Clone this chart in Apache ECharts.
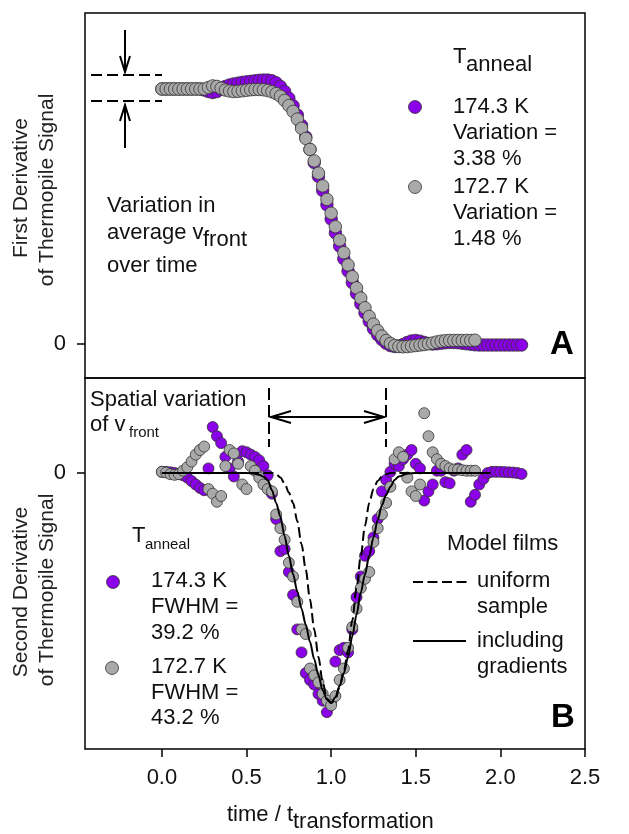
<!DOCTYPE html>
<html><head><meta charset="utf-8">
<script src="https://cdn.jsdelivr.net/npm/echarts@6/dist/echarts.min.js"></script>
<style>html,body{margin:0;padding:0;background:#fff}#c{width:629px;height:834px}</style>
</head><body><div id="c"></div>
<script>
// ---------------- DATA ----------------
const time = [0,0.025,0.05,0.075,0.1,0.125,0.15,0.175,0.2,0.225,0.25,0.275,0.3,0.325,0.35,0.375,0.4,0.425,0.45,0.475,0.5,0.525,0.55,0.575,0.6,0.625,0.65,0.675,0.7,0.725,0.75,0.775,0.8,0.825,0.85,0.875,0.9,0.925,0.95,0.975,1,1.025,1.05,1.075,1.1,1.125,1.15,1.175,1.2,1.225,1.25,1.275,1.3,1.325,1.35,1.375,1.4,1.425,1.45,1.475,1.5,1.525,1.55,1.575,1.6,1.625,1.65,1.675,1.7,1.725,1.75,1.775,1.8,1.825,1.85,1.875,1.9,1.925,1.95,1.975,2,2.025,2.05,2.075,2.1,2.125];

// First derivative, T_anneal = 174.3 K
const purpleA = [1,1,1,1,1,1,1,1,1,1,
  0.996,0.990,0.986,0.990,1.000,1.010,1.016,1.020,1.023,1.026,
  1.028,1.030,1.032,1.034,1.035,1.035,1.032,1.024,1.010,0.990,
  0.964,0.934,0.898,0.857,0.812,0.763,0.711,0.657,0.602,0.546,
  0.490,0.436,0.384,0.334,0.286,0.241,0.198,0.158,0.122,0.089,
  0.060,0.036,0.017,0.003,-0.006,-0.010,-0.008,-0.002,0.006,0.012,
  0.014,0.011,0.006,0.002,0.000,0.001,0.003,0.005,0.006,0.006,
  0.005,0.003,0.001,-0.001,-0.003,
  -0.004,-0.004,-0.004,-0.004,-0.004,-0.004,-0.004,-0.004,-0.004,-0.004,-0.004];
// First derivative, T_anneal = 172.7 K
const grayA = [1,1,1,1,1,1,1,1,1,1,1,
  1.006,1.012,1.010,1.003,0.996,0.992,0.990,0.991,0.993,
  0.995,0.997,0.998,0.998,0.997,0.994,0.989,0.982,0.972,0.955,
  0.935,0.912,0.882,0.846,0.806,0.763,0.718,0.670,0.620,0.567,
  0.513,0.460,0.408,0.358,0.310,0.264,0.220,0.180,0.142,0.108,
  0.078,0.052,0.031,0.014,0.002,-0.006,-0.010,-0.011,-0.010,-0.008,
  -0.006,-0.004,-0.002,0.001,0.004,0.008,0.011,0.013,0.014,0.014,
  0.014,0.014,0.014,0.014,0.015];
// Second derivative, 174.3 K
const purpleB = [0.005,0.005,0.003,0.000,-0.005,-0.010,-0.020,-0.035,-0.050,-0.065,
  -0.075,0.020,0.200,0.160,0.130,0.070,0.020,-0.015,0.050,0.095,
  0.090,0.080,0.070,0.055,0.030,-0.010,-0.090,-0.200,-0.340,-0.330,
  -0.430,-0.530,-0.680,-0.780,-0.870,-0.900,-0.920,-0.960,-0.990,-1.040,
  -1.000,-0.820,-0.770,-0.760,-0.780,-0.680,-0.540,-0.450,-0.360,-0.340,
  -0.280,-0.200,-0.080,-0.030,0.005,0.040,0.030,0.060,0.080,0.100,
  0.040,0.020,-0.120,-0.080,-0.050,0.010,0.010,-0.040,-0.045,0.010,
  0.020,0.080,0.100,-0.125,-0.095,-0.050,-0.025,0.000,
  0.005,0.005,0.005,0.004,0.003,0.002,0.000,-0.004];
// Second derivative, 172.7 K
const grayB = [0.005,0.002,-0.005,-0.008,-0.005,0.010,0.025,0.050,0.080,0.100,
  0.115,-0.070,-0.090,-0.125,-0.100,0.030,0.100,0.085,0.040,-0.050,
  -0.070,0.030,0.010,-0.020,-0.050,-0.070,-0.080,-0.180,-0.240,-0.290,
  -0.390,-0.450,-0.560,-0.680,-0.700,-0.850,-0.880,-0.910,-0.960,-0.990,
  -1.010,-0.970,-0.900,-0.850,-0.760,-0.670,-0.590,-0.500,-0.460,-0.430,
  -0.300,-0.240,-0.180,-0.130,-0.060,0.060,0.090,0.070,-0.020,-0.080,
  -0.100,-0.050,0.260,0.160,0.090,0.060,0.040,0.030,0.020,0.015,
  0.015,0.012,0.010,0.010,0.010];
// Model films
const modelTime = [0,0.5,0.55,0.575,0.6,0.625,0.65,0.675,0.7,0.725,0.75,0.775,0.8,0.825,0.85,0.875,0.9,0.925,0.95,0.975,1,1.025,1.05,1.075,1.1,1.125,1.15,1.175,1.2,1.225,1.25,1.275,1.3,1.325,1.35,1.375,1.4,1.45,1.5,1.94];
const modelUniform = [0,0,0,0,0,0,0,-0.005,-0.02,-0.045,-0.085,-0.13,-0.21,-0.31,-0.42,-0.55,-0.68,-0.8,-0.91,-0.98,-1.0,-0.985,-0.93,-0.86,-0.77,-0.64,-0.5,-0.36,-0.23,-0.13,-0.07,-0.035,-0.015,-0.005,0,0,0,0,0,0];
const modelGradient = [0,0,-0.003,-0.008,-0.016,-0.03,-0.075,-0.13,-0.19,-0.275,-0.36,-0.44,-0.515,-0.59,-0.66,-0.735,-0.81,-0.88,-0.945,-0.985,-1.0,-0.975,-0.925,-0.87,-0.8,-0.71,-0.615,-0.52,-0.44,-0.36,-0.28,-0.205,-0.14,-0.095,-0.06,-0.03,-0.015,-0.003,0,0];
const xTicks = [0,0.5,1,1.5,2,2.5];
const xTickLabels = ['0.0','0.5','1.0','1.5','2.0','2.5'];
const yTicks = [0];
const yTickLabels = ['0'];

// ---------------- CHART ----------------
const F = '"Liberation Sans", Arial, sans-serif';
const PURPLE = '#8A00E8', GRAY = '#A9A9A9';
const FS = 22;
const chart = echarts.init(document.getElementById('c'));
const pair = (xs, ys) => ys.map((v, i) => [xs[i], v]);
const lab = (arr, labels) => v => { let k = 0; arr.forEach((a, i) => { if (Math.abs(a - v) < Math.abs(arr[k] - v)) k = i; }); return labels[k]; };
const tickStyle = {color: '#000', width: 1.5};

const xBase = {type: 'value', min: -0.4545, max: 2.5, axisLine: {show: false, onZero: false}, splitLine: {show: false}};
const T = (x, y, text, o = {}) => ({type: 'text', x, y, z: 100, style: Object.assign({text, fontSize: FS, fontFamily: F, fill: '#111', align: 'left', verticalAlign: 'middle'}, o)});
const L = (x1, y1, x2, y2, dash) => ({type: 'line', z: 100, shape: {x1, y1, x2, y2}, style: {stroke: '#000', lineWidth: 2, lineDash: dash || null}});
const P = (pts) => ({type: 'polyline', z: 100, shape: {points: pts}, style: {stroke: '#000', lineWidth: 2, fill: null}});
const C = (cx, cy, fill) => ({type: 'circle', z: 100, shape: {cx, cy, r: 6.5}, style: {fill, stroke: '#333', lineWidth: 0.8}});

const graphic = [
  // y titles
  T(21, 188, 'First Derivative', {align: 'center', fill: '#222', fontSize: 21}),
  T(47, 190, 'of Thermopile Signal', {align: 'center', fill: '#222', fontSize: 21}),
  T(21, 592, 'Second Derivative', {align: 'center', fill: '#222', fontSize: 21}),
  T(47, 590, 'of Thermopile Signal', {align: 'center', fill: '#222', fontSize: 21}),
  // x title
  T(293, 815, 'time / t', {align: 'right'}),
  T(293, 822, 'transformation', {align: 'left'}),
  // Panel A annotations
  L(91, 75, 162, 75, [11, 5]), L(91, 101, 162, 101, [11, 5]),
  L(125, 30, 125, 72), P([[120, 56], [125, 72], [130, 56]]),
  L(125, 148, 125, 105), P([[120, 121], [125, 105], [130, 121]]),
  T(107, 206, 'Variation in'), T(107, 233, 'average v'), T(203, 240, 'front'), T(107, 266, 'over time'),
  T(453, 57, 'T'), T(466, 65, 'anneal'),
  C(415, 107, PURPLE), T(453, 107, '174.3 K'), T(453, 133, 'Variation ='), T(453, 159, '3.38 %'),
  C(415, 187, GRAY), T(453, 187, '172.7 K'), T(453, 213, 'Variation ='), T(453, 239, '1.48 %'),
  T(562, 345, 'A', {align: 'center', fontSize: 33, fontWeight: 'bold', fill: '#000'}),
  // Panel B annotations
  T(90, 400, 'Spatial variation'), T(90, 425, 'of v'), T(129, 433, 'front', {fontSize: 15}),
  L(269, 388, 269, 447, [12, 5]), L(386, 388, 386, 447, [12, 5]),
  L(271, 417, 384, 417), P([[291, 411], [271, 417], [291, 423]]), P([[364, 411], [384, 417], [364, 423]]),
  T(132, 536, 'T'), T(145, 545, 'anneal', {fontSize: 15}),
  C(113, 582, PURPLE), T(151, 581, '174.3 K'), T(151, 607, 'FWHM ='), T(151, 633, '39.2 %'),
  C(112, 668, GRAY), T(151, 667, '172.7 K'), T(151, 693, 'FWHM ='), T(151, 718, '43.2 %'),
  T(447, 544, 'Model films'),
  L(413, 582, 467, 582, [10, 4.5]), T(477, 581, 'uniform'), T(477, 607, 'sample'),
  L(413, 641, 466, 641), T(477, 641, 'including'), T(477, 667, 'gradients'),
  T(563, 718, 'B', {align: 'center', fontSize: 33, fontWeight: 'bold', fill: '#000'})
];
// rotate y titles
[0, 1, 2, 3].forEach(i => { graphic[i].rotation = Math.PI / 2; });

const scat = (name, xi, data, color, size, z) => ({
  name, type: 'scatter', xAxisIndex: xi, yAxisIndex: xi, data, symbolSize: size, z,
  itemStyle: {color, borderColor: '#333', borderWidth: 0.8, opacity: 1}, emphasis: {disabled: true}
});

chart.setOption({
  animation: false,
  backgroundColor: '#fff',
  grid: [
    {left: 85, top: 13, width: 500, height: 365, show: true, borderColor: '#000', borderWidth: 1.5},
    {left: 85, top: 378, width: 500, height: 371, show: true, borderColor: '#000', borderWidth: 1.5}
  ],
  xAxis: [
    Object.assign({gridIndex: 0, axisTick: {show: false}, axisLabel: {show: false}}, xBase),
    Object.assign({gridIndex: 1,
      axisTick: {show: true, customValues: xTicks, length: 8, lineStyle: tickStyle},
      axisLabel: {show: true, customValues: xTicks, formatter: lab(xTicks, xTickLabels), fontSize: FS, fontFamily: F, color: '#111', margin: 18}}, xBase)
  ],
  yAxis: [
    {gridIndex: 0, type: 'value', min: -0.1333, max: 1.298, axisLine: {show: false, onZero: false}, splitLine: {show: false},
      axisTick: {show: true, customValues: yTicks, length: 8, lineStyle: tickStyle},
      axisLabel: {show: true, customValues: yTicks, formatter: lab(yTicks, yTickLabels), fontSize: FS, fontFamily: F, color: '#111', margin: 19}},
    {gridIndex: 1, type: 'value', min: -1.2, max: 0.413, axisLine: {show: false, onZero: false}, splitLine: {show: false},
      axisTick: {show: true, customValues: yTicks, length: 8, lineStyle: tickStyle},
      axisLabel: {show: true, customValues: yTicks, formatter: lab(yTicks, yTickLabels), fontSize: FS, fontFamily: F, color: '#111', margin: 19}}
  ],
  series: [
    scat('174.3 K A', 0, pair(time, purpleA), PURPLE, 12.5, 2),
    scat('172.7 K A', 0, pair(time, grayA), GRAY, 12.5, 3),
    scat('174.3 K B', 1, pair(time, purpleB), PURPLE, 11, 2),
    scat('172.7 K B', 1, pair(time, grayB), GRAY, 11, 3),
    {name: 'uniform sample', type: 'line', xAxisIndex: 1, yAxisIndex: 1, data: pair(modelTime, modelUniform), showSymbol: false, smooth: 0.3, smoothMonotone: 'x', z: 5,
      lineStyle: {color: '#000', width: 2, type: [10, 4.5]}},
    {name: 'including gradients', type: 'line', xAxisIndex: 1, yAxisIndex: 1, data: pair(modelTime, modelGradient), showSymbol: false, smooth: 0.3, smoothMonotone: 'x', z: 5,
      lineStyle: {color: '#000', width: 2}}
  ],
  graphic
});
</script></body></html>
